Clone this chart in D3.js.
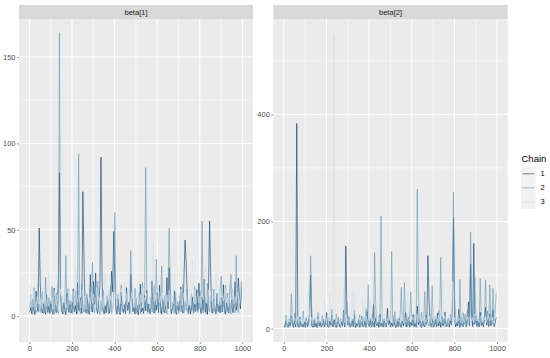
<!DOCTYPE html>
<html>
<head>
<meta charset="utf-8">
<script src="https://cdn.jsdelivr.net/npm/d3@7"></script>
<style>
  body { margin: 0; background: #fff; }
  text { font-family: "Liberation Sans", Arial, sans-serif; }
</style>
</head>
<body>
<svg id="chart" width="550" height="358"></svg>
<script>
// trace draws, one value every 5th iteration (1, 6, 11, ... 996)
var step = 5
var chains = ['1', '2', '3']
var params = ['beta[1]', 'beta[2]']
var chainColors = ['#03396c', '#6497b1', '#d1e1ec']

var beta1_chain1 = [
  2.1, 4.8, 1.3, 9.6, 3.2, 0.9, 14.5, 5.1, 2.6, 51.0, 18.0, 4.4, 1.8, 7.2, 3.0, 1.1, 12.3, 2.4, 5.6, 1.5,
  8.9, 3.3, 1.0, 16.2, 4.7, 2.0, 6.5, 21.0, 83.0, 11.4, 2.8, 1.4, 7.8, 3.6, 0.8, 13.1, 4.2, 2.2, 9.0, 1.7,
  3.9, 15.8, 2.5, 6.1, 1.2, 19.4, 4.0, 2.9, 10.7, 1.6, 72.0, 35.0, 5.3, 1.9, 12.8, 3.1, 1.0, 24.0, 4.6, 2.3,
  20.0, 6.8, 25.0, 3.4, 1.5, 8.7, 17.1, 92.0, 22.5, 3.8, 1.3, 5.9, 2.1, 11.6, 4.3, 1.8, 7.4, 26.0, 14.0, 49.0,
  22.0, 3.5, 1.1, 9.8, 2.7, 0.9, 13.9, 4.1, 2.0, 6.6, 1.4, 16.5, 3.2, 8.0, 1.7, 24.0, 12.2, 2.6, 5.0, 1.2,
  10.3, 3.7, 0.8, 6.9, 18.6, 2.4, 4.5, 1.5, 11.9, 3.0, 15.0, 2.2, 7.1, 1.3, 4.9, 20.5, 2.8, 1.6, 9.2, 3.4,
  13.5, 2.0, 17.8, 5.4, 1.1, 10.1, 3.6, 1.9, 7.7, 22.3, 4.2, 28.0, 9.4, 1.4, 3.9, 6.2, 14.7, 2.5, 1.0, 8.3,
  2.9, 5.8, 16.9, 3.3, 1.7, 23.0, 44.0, 31.0, 12.6, 2.1, 6.4, 1.2, 4.0, 10.8, 1.8, 7.0, 2.6, 15.3, 3.7, 19.1,
  4.8, 1.5, 11.0, 3.1, 21.4, 2.3, 8.1, 1.0, 16.0, 55.0, 25.5, 4.4, 1.6, 9.9, 3.5, 1.3, 13.2, 2.7, 6.0, 1.9,
  10.6, 2.4, 18.2, 4.6, 1.1, 7.5, 3.0, 1.7, 14.1, 24.0, 5.2, 2.0, 9.0, 19.8, 3.4, 6.7, 22.0, 11.3, 4.1, 20.0
]
var beta1_chain2 = [
  4.5, 12.7, 2.3, 1.0, 16.4, 5.8, 1.9, 3.6, 19.0, 7.3, 2.1, 5.0, 14.2, 1.4, 3.2, 22.5, 6.6, 1.7, 10.8, 3.9,
  2.6, 17.3, 6.9, 1.2, 4.1, 13.6, 2.8, 1.5, 164.0, 9.2, 11.5, 2.9, 1.1, 7.7, 35.0, 4.3, 15.9, 2.0, 3.4, 8.6,
  1.3, 6.2, 2.5, 14.8, 4.7, 1.6, 94.0, 3.0, 1.2, 18.7, 5.5, 2.2, 4.9, 10.4, 1.4, 7.1, 3.3, 16.6, 2.4, 31.0,
  6.0, 1.8, 13.3, 3.5, 20.2, 4.4, 1.1, 8.8, 2.7, 15.1, 5.2, 1.5, 3.8, 12.0, 1.3, 6.3, 17.4, 2.1, 4.6, 9.5,
  60.0, 3.7, 1.6, 12.6, 5.4, 1.0, 18.1, 2.9, 7.9, 4.0, 1.9, 14.4, 3.2, 6.7, 1.3, 38.0, 11.7, 2.3, 4.8, 16.0,
  1.7, 6.5, 2.9, 13.0, 1.2, 5.1, 19.6, 2.4, 9.7, 86.0, 15.2, 3.6, 6.0, 1.4, 11.1, 2.6, 4.4, 17.8, 2.0, 33.0,
  7.2, 3.1, 14.0, 1.9, 29.0, 5.9, 2.2, 12.4, 4.3, 1.3, 16.7, 51.0, 21.0, 2.8, 8.4, 3.9, 1.5, 13.8, 3.4, 6.8,
  1.4, 11.6, 2.5, 5.6, 18.4, 1.9, 9.1, 3.2, 15.5, 1.1, 6.1, 2.7, 13.1, 4.5, 1.6, 17.0, 3.0, 8.2, 2.1, 6.4,
  14.6, 4.1, 55.0, 1.8, 10.9, 3.7, 1.2, 18.9, 5.3, 2.4, 12.1, 1.9, 4.6, 15.7, 2.9, 1.3, 11.2, 6.0, 2.2, 16.3,
  23.0, 2.8, 9.3, 1.6, 18.0, 4.2, 13.4, 2.3, 7.6, 1.2, 15.8, 3.3, 10.2, 1.8, 35.0, 5.7, 2.0, 12.9, 6.6, 17.2
]
var beta1_chain3 = [
  18.0, 8.4, 12.6, 5.2, 15.1, 9.7, 3.8, 11.4, 7.0, 14.3, 6.1, 10.2, 4.5, 16.8, 8.9, 12.0, 5.6, 9.3, 26.0, 13.5,
  7.2, 10.8, 4.1, 14.9, 9.0, 6.3, 12.7, 3.5, 8.6, 15.8, 11.1, 5.9, 9.8, 13.2, 7.5, 4.8, 10.5, 16.2, 6.7, 11.9,
  8.1, 14.4, 5.3, 29.0, 10.0, 7.8, 12.0, 12.3, 4.6, 9.5, 15.3, 6.9, 11.6, 3.9, 13.7, 8.7, 10.9, 5.7, 14.0, 7.4,
  12.8, 9.1, 4.4, 16.5, 8.2, 11.3, 6.4, 14.6, 10.1, 5.1, 13.0, 25.0, 7.7, 9.9, 15.0, 4.9, 11.8, 8.5, 12.4, 6.2,
  14.2, 10.6, 5.8, 9.4, 13.3, 7.1, 16.0, 11.0, 4.3, 20.0, 8.8, 12.9, 6.6, 15.5, 9.6, 5.4, 13.8, 10.3, 7.9, 11.5,
  4.7, 14.7, 9.2, 6.8, 12.5, 8.0, 15.9, 5.0, 10.7, 9.0, 13.1, 7.3, 11.2, 4.2, 9.7, 14.1, 43.0, 8.3, 12.2, 6.5,
  10.4, 15.2, 7.6, 11.7, 5.5, 13.6, 9.0, 16.6, 6.0, 12.1, 8.4, 14.8, 10.8, 4.0, 11.4, 7.0, 25.0, 13.9, 9.3, 5.9,
  12.6, 8.9, 15.7, 6.3, 10.2, 13.4, 7.8, 11.0, 4.6, 14.5, 9.8, 5.3, 12.0, 33.0, 8.1, 15.4, 6.7, 10.9, 13.2, 7.5,
  11.6, 5.1, 14.0, 9.5, 12.7, 28.0, 7.2, 10.3, 15.1, 6.1, 13.5, 8.6, 11.8, 4.4, 9.9, 25.0, 12.4, 7.0, 14.6, 10.0,
  6.4, 13.0, 8.8, 11.3, 15.6, 7.9, 10.6, 5.6, 12.9, 24.0, 9.4, 14.2, 6.9, 11.1, 8.0, 13.7, 10.4, 7.3, 12.5, 21.0
]

var beta2_chain1 = [
  5.1, 2.6, 18.0, 3.9, 2.0, 11.4, 4.3, 24.0, 6.2, 2.2, 14.8, 3.1, 383.0, 9.0, 2.5, 20.6, 4.0, 7.8, 2.8, 12.5,
  2.1, 19.0, 3.5, 8.3, 28.0, 100.0, 5.2, 2.4, 15.6, 3.3, 9.7, 2.0, 22.4, 4.6, 11.0, 2.7, 6.4, 17.5, 3.0, 10.2,
  30.0, 4.1, 2.3, 13.9, 6.0, 25.0, 3.2, 16.8, 5.0, 2.1, 9.9, 21.3, 3.8, 2.5, 12.0, 4.9, 35.0, 3.0, 154.0, 40.0,
  6.5, 19.7, 2.6, 4.8, 14.3, 3.4, 26.0, 2.0, 8.8, 4.2, 17.1, 2.4, 7.0, 23.5, 3.1, 5.5, 13.2, 2.2, 32.0, 9.4,
  3.7, 15.4, 2.9, 7.3, 45.0, 2.6, 20.8, 5.6, 12.1, 2.3, 27.0, 4.4, 9.6, 2.7, 18.3, 5.1, 3.0, 38.0, 6.8, 14.0,
  2.8, 10.5, 3.9, 24.6, 5.3, 2.0, 13.4, 3.3, 19.9, 6.6, 2.4, 16.2, 4.7, 11.8, 30.0, 2.9, 7.4, 21.9, 2.5, 12.7,
  5.4, 26.5, 3.6, 10.8, 2.4, 42.0, 7.1, 18.6, 4.2, 2.1, 14.9, 6.2, 3.0, 25.3, 9.1, 136.0, 55.0, 12.4, 3.8, 20.0,
  2.7, 6.9, 17.4, 3.5, 29.0, 5.0, 13.6, 2.3, 22.8, 4.5, 9.3, 31.0, 3.2, 6.1, 18.9, 2.6, 14.5, 7.7, 45.0, 208.0,
  17.0, 3.1, 11.9, 4.9, 36.0, 2.2, 21.1, 6.3, 3.6, 15.8, 26.4, 3.4, 12.3, 50.0, 5.8, 120.0, 18.0, 3.9, 159.0, 8.5,
  23.8, 4.3, 14.2, 2.8, 30.5, 5.7, 11.6, 3.3, 19.4, 40.0, 6.4, 17.3, 3.7, 27.2, 5.1, 13.0, 35.0, 3.6, 10.9, 21.0
]
var beta2_chain2 = [
  8.0, 3.9, 25.0, 6.1, 3.0, 18.7, 5.2, 65.0, 9.3, 3.4, 28.5, 4.8, 14.6, 2.9, 7.5, 22.1, 4.4, 11.2, 33.0, 5.7,
  3.2, 20.4, 7.8, 4.6, 26.9, 136.0, 38.0, 6.3, 2.8, 19.5, 9.9, 3.7, 30.2, 5.9, 13.8, 3.5, 24.0, 8.4, 4.9, 17.6,
  6.8, 3.1, 21.7, 10.4, 5.0, 36.0, 3.8, 15.1, 6.6, 27.4, 3.3, 12.9, 5.4, 19.2, 8.9, 4.1, 31.0, 4.7, 10.0, 50.0,
  5.8, 23.3, 3.6, 9.7, 18.1, 4.5, 34.0, 7.2, 3.9, 14.4, 8.1, 25.8, 3.0, 11.5, 5.6, 21.0, 4.3, 37.0, 9.0, 82.0,
  6.4, 19.8, 4.9, 29.0, 3.7, 142.0, 45.0, 10.7, 5.3, 22.6, 4.0, 210.0, 27.5, 5.1, 16.9, 3.2, 8.6, 24.8, 6.9, 20.3,
  4.2, 144.0, 13.0, 6.0, 31.6, 3.4, 18.0, 7.7, 4.8, 23.9, 77.0, 7.0, 15.3, 86.0, 3.9, 28.2, 9.6, 5.5, 21.4, 69.0,
  11.3, 4.9, 25.5, 8.2, 3.6, 260.0, 70.0, 19.9, 6.7, 30.8, 4.2, 12.8, 69.0, 5.9, 22.0, 9.4, 4.6, 27.0, 7.0, 80.0,
  14.9, 3.9, 23.1, 8.7, 5.4, 33.5, 11.0, 133.0, 6.5, 20.7, 5.0, 29.4, 9.8, 4.1, 18.4, 7.3, 26.1, 5.8, 45.0, 255.0,
  60.0, 16.2, 5.2, 24.3, 8.0, 92.0, 12.1, 4.5, 30.0, 6.9, 21.5, 5.7, 35.0, 10.3, 4.8, 180.0, 62.0, 18.8, 7.6, 95.0,
  25.0, 6.2, 17.8, 5.1, 94.0, 28.9, 9.5, 5.9, 22.4, 91.0, 11.8, 33.0, 7.1, 82.0, 19.6, 8.3, 75.0, 14.7, 26.5, 67.0
]
var beta2_chain3 = [
  26.0, 14.5, 20.3, 9.6, 17.1, 23.4, 11.8, 15.9, 28.0, 12.7, 19.5, 8.4, 16.3, 22.1, 10.9, 18.6, 13.4, 25.2, 9.1, 21.0,
  15.0, 11.3, 24.6, 72.0, 17.8, 13.0, 20.7, 8.8, 16.0, 27.1, 12.2, 19.9, 10.4, 23.0, 14.6, 18.1, 9.7, 21.8, 57.0, 15.7,
  11.7, 25.5, 13.8, 66.0, 17.4, 10.1, 22.6, 550.0, 30.0, 16.8, 12.9, 24.0, 9.3, 19.1, 14.2, 20.8, 75.0, 11.0, 26.3, 15.3,
  18.9, 10.6, 22.9, 13.3, 70.0, 17.0, 67.0, 12.0, 24.8, 9.9, 19.7, 15.6, 21.4, 11.4, 60.0, 14.9, 18.4, 23.7, 10.3, 16.6,
  25.0, 57.0, 13.6, 20.0, 11.9, 17.6, 24.2, 9.5, 15.1, 21.6, 12.5, 12.5, 35.0, 18.2, 14.0, 26.6, 10.8, 19.3, 16.1, 22.4,
  13.1, 20.5, 11.2, 25.9, 15.4, 9.0, 18.7, 23.1, 12.6, 17.3, 27.5, 14.1, 20.9, 10.5, 16.7, 22.8, 69.0, 13.7, 19.6, 11.6,
  24.4, 15.8, 21.2, 9.8, 18.0, 26.9, 12.4, 16.4, 23.5, 10.7, 19.0, 14.8, 25.6, 11.1, 17.9, 21.9, 13.2, 24.1, 9.4, 20.4,
  16.2, 12.8, 22.3, 18.5, 10.2, 25.3, 14.3, 20.1, 11.5, 91.0, 17.2, 23.8, 13.9, 19.4, 9.2, 24.7, 15.5, 21.1, 88.0, 12.3,
  20.6, 16.9, 11.8, 26.1, 14.7, 19.8, 10.0, 23.3, 17.5, 12.1, 25.8, 15.2, 21.7, 9.6, 18.8, 24.5, 13.5, 20.2, 11.3, 26.8,
  14.4, 22.7, 17.7, 10.9, 19.2, 25.1, 12.6, 21.3, 16.5, 23.6, 11.7, 18.3, 24.9, 13.8, 20.7, 15.8, 22.0, 10.4, 27.3, 17.1
]

// axis limits and breaks as shown in the figure
var xTicks = [0, 200, 400, 600, 800, 1000]
var xMinor = [100, 300, 500, 700, 900]
var yLimits = [[-15, 172], [-25, 578]]
var yTicks = [[0, 50, 100, 150], [0, 200, 400]]
var yMinor = [[25, 75, 125], [100, 300, 500]]

var traces = [
  [beta1_chain1, beta1_chain2, beta1_chain3],
  [beta2_chain1, beta2_chain2, beta2_chain3]
]

var svg = d3.select('#chart')
svg.append('rect').attr('width', 550).attr('height', 358).attr('fill', '#fff')

var panelTop = 19, panelBottom = 342, stripH = 14
var panelX = [[19, 253], [273.3, 507.7]]

// x domain: iterations 1..1000 with ggplot's 5% expansion
var xr = 999 * 0.05
params.forEach(function(p, k) {
    var x = d3.scaleLinear().domain([1 - xr, 1000 + xr]).range(panelX[k])
    var y = d3.scaleLinear().domain(yLimits[k]).range([panelBottom, panelTop])
    var g = svg.append('g')
    var w = panelX[k][1] - panelX[k][0]

    g.append('rect')
	.attr('x', panelX[k][0]).attr('y', panelTop)
	.attr('width', w).attr('height', panelBottom - panelTop)
	.attr('fill', '#ebebeb')

    g.selectAll('line.ymin').data(yMinor[k]).enter().append('line')
	.attr('x1', panelX[k][0]).attr('x2', panelX[k][1])
	.attr('y1', function(d) {return y(d);}).attr('y2', function(d) {return y(d);})
	.attr('stroke', '#fff').attr('stroke-width', 0.5)
    g.selectAll('line.xmin').data(xMinor).enter().append('line')
	.attr('y1', panelTop).attr('y2', panelBottom)
	.attr('x1', function(d) {return x(d);}).attr('x2', function(d) {return x(d);})
	.attr('stroke', '#fff').attr('stroke-width', 0.5)
    g.selectAll('line.ymaj').data(yTicks[k]).enter().append('line')
	.attr('x1', panelX[k][0]).attr('x2', panelX[k][1])
	.attr('y1', function(d) {return y(d);}).attr('y2', function(d) {return y(d);})
	.attr('stroke', '#fff').attr('stroke-width', 1)
    g.selectAll('line.xmaj').data(xTicks).enter().append('line')
	.attr('y1', panelTop).attr('y2', panelBottom)
	.attr('x1', function(d) {return x(d);}).attr('x2', function(d) {return x(d);})
	.attr('stroke', '#fff').attr('stroke-width', 1)

    var line = d3.line()
	.x(function(d, i) {return x(1 + i * step);})
	.y(function(d) {return y(d);})

    g.selectAll('path.trace').data(traces[k]).enter().append('path')
	.attr('d', line)
	.attr('fill', 'none')
	.attr('stroke', function(d, i) {return chainColors[i];})
	.attr('stroke-width', 0.6)

    // strip
    g.append('rect')
	.attr('x', panelX[k][0]).attr('y', panelTop - stripH)
	.attr('width', w).attr('height', stripH)
	.attr('fill', '#d9d9d9')
    g.append('text')
	.attr('x', panelX[k][0] + w / 2).attr('y', panelTop - stripH / 2 + 2.6)
	.attr('text-anchor', 'middle')
	.attr('font-size', 7.5).attr('fill', '#1a1a1a')
	.text(p)

    var xAxis = d3.axisBottom(x).tickValues(xTicks).tickFormat(d3.format('d'))
	.tickSize(2).tickPadding(2)
    var ax = g.append('g').attr('transform', 'translate(0,' + panelBottom + ')').call(xAxis)
    var yAxis = d3.axisLeft(y).tickValues(yTicks[k]).tickSize(2).tickPadding(1.5)
    var ay = g.append('g').attr('transform', 'translate(' + panelX[k][0] + ',0)').call(yAxis)
    ;[ax, ay].forEach(function(a) {
	a.select('.domain').remove()
	a.selectAll('line').attr('stroke', '#333').attr('stroke-width', 0.5)
	a.selectAll('text').attr('fill', '#4d4d4d').attr('font-size', 7.5)
	    .attr('font-family', '"Liberation Sans", Arial, sans-serif')
    })
})

// legend
var leg = svg.append('g')
leg.append('text').attr('x', 521.5).attr('y', 161.5)
    .attr('font-size', 9.5).attr('fill', '#000').text('Chain')
var keyH = 14.1
var keys = leg.selectAll('g.key').data(chains).enter().append('g')
    .attr('transform', function(d, i) {return 'translate(521,' + (166.7 + i * keyH) + ')';})
keys.append('rect').attr('width', 14.7).attr('height', keyH).attr('fill', '#f2f2f2')
keys.append('line').attr('x1', 1.5).attr('x2', 13.2)
    .attr('y1', keyH / 2).attr('y2', keyH / 2)
    .attr('stroke', function(d, i) {return chainColors[i];})
    .attr('stroke-width', 0.6)
keys.append('text').attr('x', 19.5).attr('y', keyH / 2 + 2.5)
    .attr('font-size', 7.5).attr('fill', '#000').text(function(d) {return d;})
</script>
</body>
</html>
